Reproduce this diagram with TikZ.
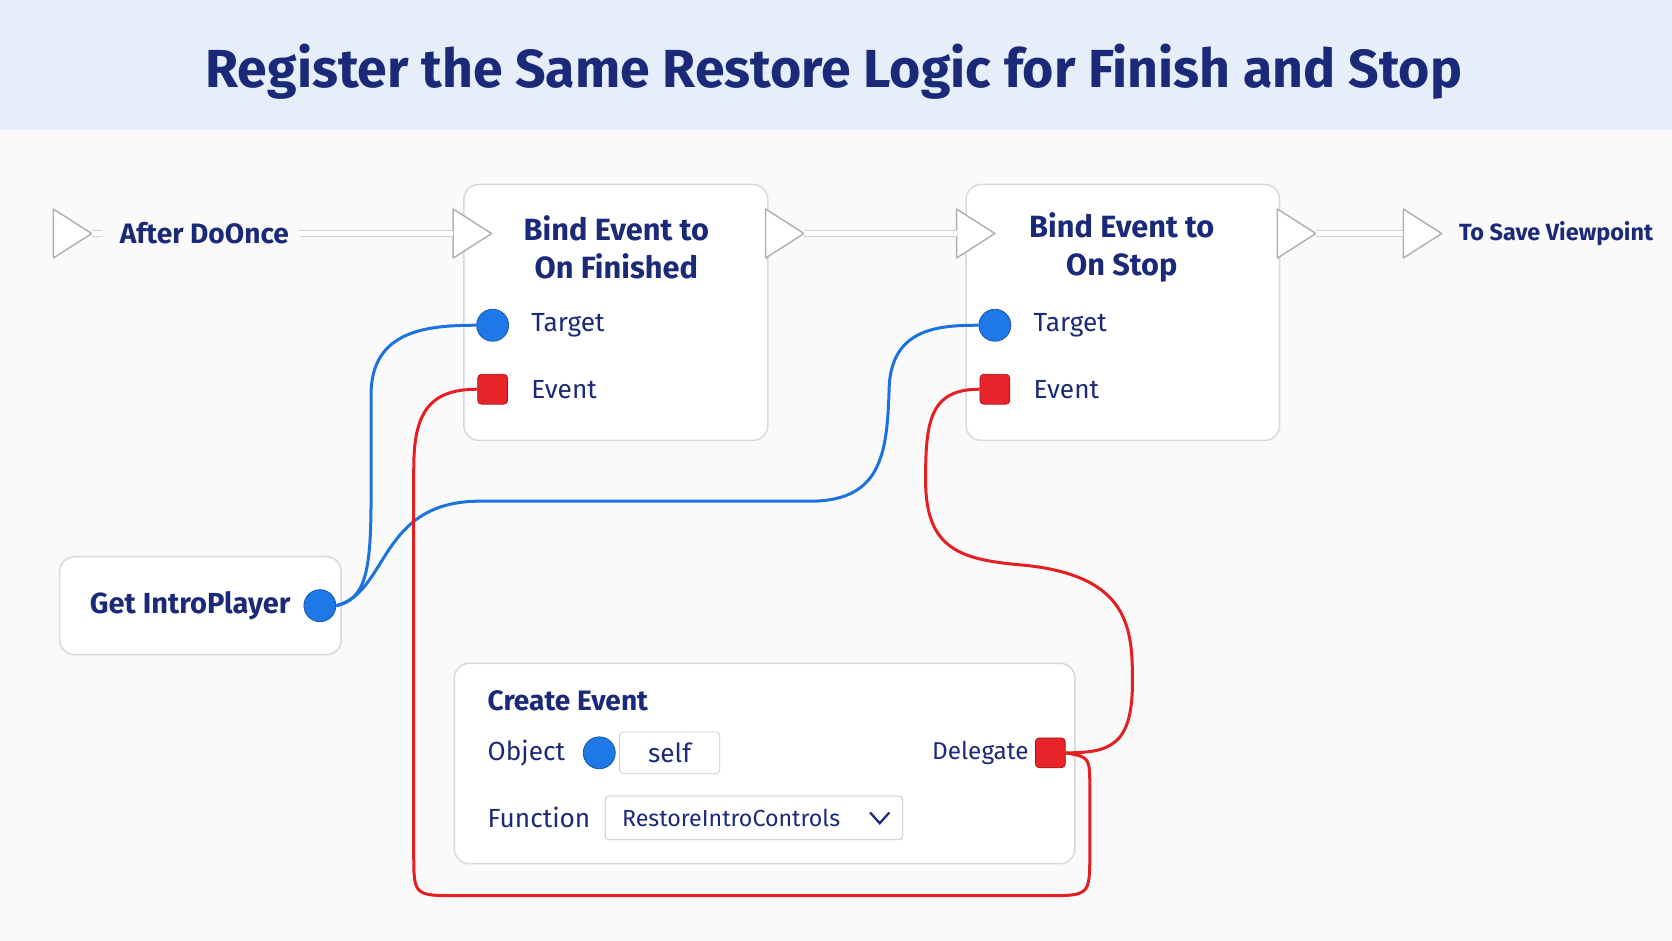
\documentclass[tikz,border=0pt]{standalone}
\usepackage{fontspec}
\setmainfont{Fira Sans}
\usetikzlibrary{calc}
\definecolor{navy}{HTML}{1B2A78}
\definecolor{band}{HTML}{E6EEFA}
\definecolor{pinblue}{HTML}{1E78E8}
\definecolor{pinred}{HTML}{E8242A}
\definecolor{wireblue}{HTML}{1C72E0}
\definecolor{wirered}{HTML}{E41E22}
\begin{document}
\begin{tikzpicture}[
    x=0.02cm, y=-0.02cm,
    font=\fontsize{14}{17}\selectfont,
    box/.style={draw=black!15, fill=white, rounded corners=8pt, line width=0.8pt},
    label/.style={text=navy, anchor=west, inner sep=0pt},
    title/.style={text=navy, font=\fontsize{16.4}{20}\selectfont\bfseries, align=center},
    exec/.style={draw=black!30, fill=white, line width=0.8pt, line join=round},
    execwire/.style={draw=black!18, double=white, double distance=2.5pt, line width=0.8pt},
    datapin/.style={circle, fill=pinblue, draw=pinblue!70!black, minimum size=30*0.02cm, inner sep=0pt},
    eventpin/.style={rectangle, rounded corners=2pt, fill=pinred, draw=pinred!70!black, minimum size=28*0.02cm, inner sep=0pt},
    bluewire/.style={wireblue, line width=1.6pt},
    redwire/.style={wirered, line width=1.6pt},
  ]
  % Canvas and title band
  \useasboundingbox (0,0) rectangle (1568,882);
  \fill[black!2] (0,0) rectangle (1568,882);
  \fill[band] (0,0) rectangle (1568,122);
  \node[text=navy, font=\fontsize{28.6}{32}\selectfont\bfseries] (heading) at (782,67)
    {Register the Same Restore Logic for Finish and Stop};

  % Boxes
  \draw[box] (435,173) rectangle (720,413);
  \draw[box] (906,173) rectangle (1200,413);
  \draw[box] (56,522) rectangle (320,614);
  \draw[box] (426,622) rectangle (1008,810);

  % Execution pins
  \foreach \name/\x in {start/50, finin/425, finout/718, stopin/897, stopout/1198, save/1316} {
    \draw[exec] (\x,196) -- (\x+36,219) -- (\x,242) -- cycle;
    \coordinate (\name-l) at (\x,219);
    \coordinate (\name-r) at (\x+36,219);
  }
  \draw[execwire] (start-r) -- ++(10,0);
  \draw[execwire] (280,219) -- (finin-l);
  \draw[execwire] (finout-r) -- (stopin-l);
  \draw[execwire] (stopout-r) -- (save-l);

  % Texts
  \node[label, font=\fontsize{15}{18}\selectfont\bfseries] (after) at (112,219) {After DoOnce};
  \node[label, font=\fontsize{12.5}{15}\selectfont\bfseries] (tosave) at (1368,219) {To Save Viewpoint};
  \node[title] (bindfin) at (578,232) {Bind Event to\\On Finished};
  \node[title] (bindstop) at (1052,232) {Bind Event to\\On Stop};
  \node[label, font=\fontsize{15.5}{19}\selectfont\bfseries] (getintro) at (84,568) {Get IntroPlayer};
  \node[label, font=\fontsize{15}{18}\selectfont\bfseries] (create) at (457,657) {Create Event};

  % Pins
  \node[datapin] (fintarget) at (462,305) {};
  \node[eventpin] (finevent) at (462,365) {};
  \node[datapin] (stoptarget) at (933,305) {};
  \node[eventpin] (stopevent) at (933,365) {};
  \node[datapin] (player) at (300,568) {};
  \node[datapin] (object) at (562,706) {};
  \node[eventpin] (delegate) at (985,706) {};
  \foreach \pin in {fintarget, stoptarget}
    \node[label] at ([xshift=36*0.02cm]\pin.center) {Target};
  \foreach \pin in {finevent, stopevent}
    \node[label] at ([xshift=36*0.02cm]\pin.center) {Event};

  % Create Event fields
  \node[label] (objlabel) at (457,706) {Object};
  \node[draw=black!20, fill=white, rounded corners=2pt, minimum width=94*0.02cm,
    minimum height=39*0.02cm, text=navy] (self) at (628,706) {self};
  \node[label, anchor=east, font=\fontsize{13}{16}\selectfont] (dellabel) at (965,706) {Delegate};
  \node[label] (funclabel) at (457,767) {Function};
  \node[draw=black!25, fill=white, rounded corners=2pt, minimum width=279*0.02cm,
    minimum height=41*0.02cm] (func) at (707,767) {};
  \node[label, font=\fontsize{12.4}{15}\selectfont] (funcname) at (583,767) {RestoreIntroControls};
  \draw[navy, line width=1.2pt] (816,762) -- (825,772) -- (834,762);

  % Blue wires
  \draw[bluewire] (player.east) .. controls (345,562) and (348,530) .. (348,460)
    -- (348,370) .. controls (348,310) and (400,305) .. (fintarget.west);
  \draw[bluewire] (player.east) .. controls (365,555) and (355,470) .. (450,470)
    -- (760,470) .. controls (830,470) and (832,420) .. (834,360)
    .. controls (838,308) and (880,305) .. (stoptarget.west);

  % Red wires
  \draw[redwire] (finevent.west) .. controls (400,365) and (388,390) .. (388,440)
    -- (388,800) .. controls (388,840) .. (430,840) -- (980,840)
    .. controls (1022,840) .. (1022,800) -- (1022,740)
    .. controls (1022,710) .. (delegate.east);
  \draw[redwire] (stopevent.west) .. controls (872,365) and (868,395) .. (868,450)
    .. controls (868,515) and (900,525) .. (960,530)
    .. controls (1060,540) and (1062,590) .. (1062,640)
    .. controls (1062,700) and (1040,706) .. (delegate.east);
\end{tikzpicture}
\end{document}
